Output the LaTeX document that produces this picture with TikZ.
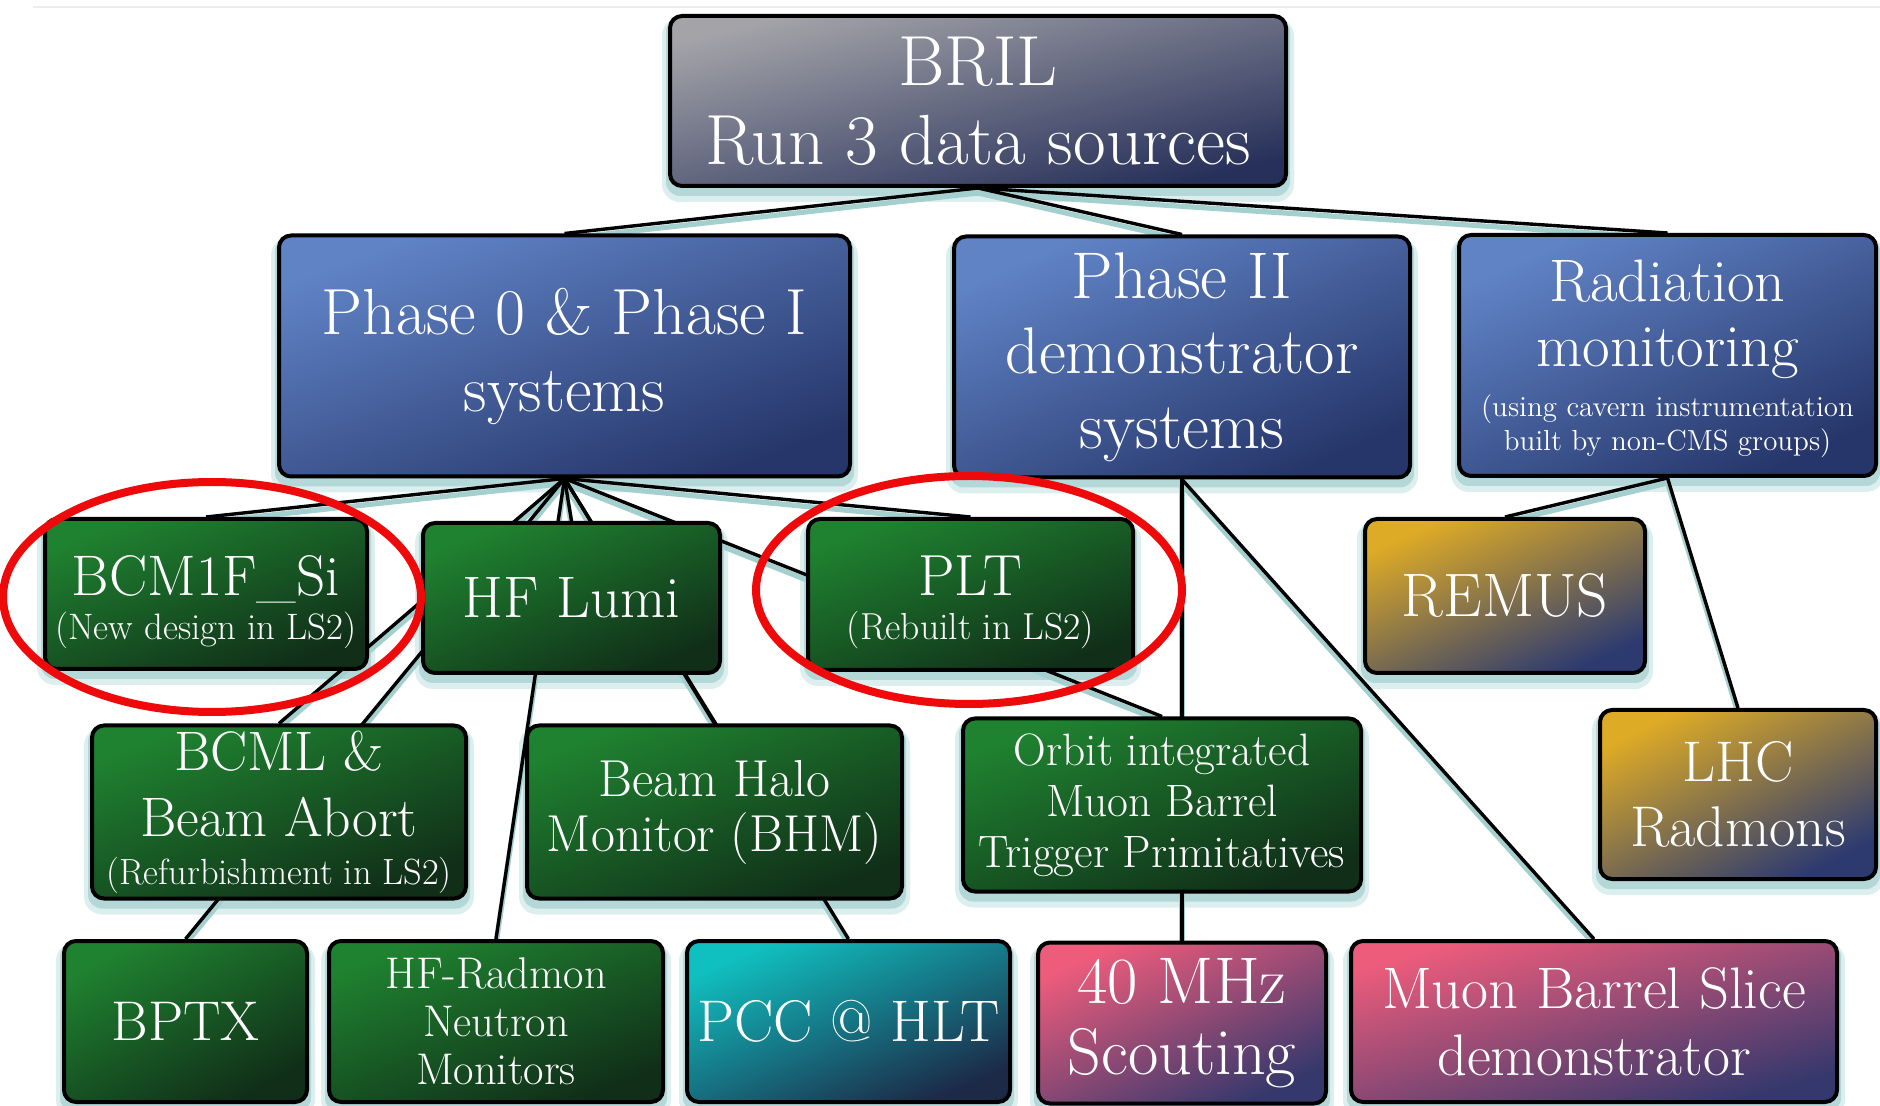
\documentclass[tikz,border=0pt]{standalone}
\usepackage{fontspec}
\usetikzlibrary{backgrounds}
\definecolor{greyA}{HTML}{A3A3A8}
\definecolor{greyB}{HTML}{27305A}
\definecolor{blueA}{HTML}{6083C6}
\definecolor{blueB}{HTML}{26366A}
\definecolor{greenA}{HTML}{1F8230}
\definecolor{greenB}{HTML}{102E18}
\definecolor{goldA}{HTML}{DEAB26}
\definecolor{goldB}{HTML}{2C3A70}
\definecolor{tealA}{HTML}{10C0C0}
\definecolor{tealB}{HTML}{1C2A48}
\definecolor{pinkA}{HTML}{EE5C7C}
\definecolor{pinkB}{HTML}{34386C}
\definecolor{shadowOut}{HTML}{DCEEEE}
\definecolor{shadowIn}{HTML}{B4D8D8}
\definecolor{edgeShadow}{HTML}{A4CFCF}
\definecolor{ringred}{HTML}{EE0A0A}
\begin{document}
\begin{tikzpicture}[x=0.5pt,y=-0.5pt,
  box/.style={draw=black, line width=2pt, rounded corners=6pt, inner sep=0pt, text=white, align=center},
  sz/.style 2 args={minimum width=#1*0.5pt-2pt, minimum height=#2*0.5pt-2pt},
  greybox/.style={box, top color=greyA, bottom color=greyB, shading angle=#1},
  bluebox/.style={box, top color=blueA, bottom color=blueB, shading angle=#1},
  greenbox/.style={box, top color=greenA, bottom color=greenB, shading angle=#1},
  goldbox/.style={box, top color=goldA, bottom color=goldB, shading angle=#1},
  tealbox/.style={box, top color=tealA, bottom color=tealB, shading angle=#1},
  pinkbox/.style={box, top color=pinkA, bottom color=pinkB, shading angle=#1},
  greybox/.default=20, bluebox/.default=20, greenbox/.default=21,
  goldbox/.default=24, tealbox/.default=23, pinkbox/.default=22,
  link/.style={draw=black, line width=1.7pt},
  linkshadow/.style={draw=edgeShadow, line width=2.6pt},
  ring/.style={draw=ringred, line width=4pt}
]
\useasboundingbox (0,0) rectangle (1880,1106);

% level 0
\node[greybox=14, sz={620}{174}, font=\fontsize{35.5}{39.5}\selectfont] (bril) at (978,101) {BRIL\\Run 3 data sources};

% level 1
\node[bluebox=20, sz={575}{245}, font=\fontsize{32.6}{38.5}\selectfont] (ph0) at (564.5,356) {Phase 0 \& Phase I\\systems};
\node[bluebox=24, sz={460}{245}, font=\fontsize{33}{37.5}\selectfont] (ph2) at (1182,357) {Phase II\\demonstrator\\systems};
\node[bluebox=25, sz={421}{245}, font=\fontsize{30}{32.5}\selectfont] (rad) at (1667.5,355.5)
  {\rule{0pt}{24pt}Radiation\\monitoring\\[-7.5pt]{\fontsize{14.5}{17}\selectfont (using cavern instrumentation}\\[-15.5pt]{\fontsize{14.5}{17}\selectfont built by non-CMS groups)}};

% level 2
\node[greenbox, sz={326}{154}, font=\fontsize{28.6}{32}\selectfont] (bcm) at (206,594)
  {\rule{0pt}{28pt}BCM1F\_Si\\[-10pt]{\fontsize{18.4}{21}\selectfont (New design in LS2)}};
\node[greenbox=23, sz={301}{154}, font=\fontsize{29.3}{32}\selectfont] (hfl) at (571.5,598) {HF Lumi};
\node[greenbox, sz={329}{155}, font=\fontsize{29}{32}\selectfont] (plt) at (970.5,594.5)
  {\rule{0pt}{28pt}PLT\\[-10pt]{\fontsize{18.8}{21}\selectfont (Rebuilt in LS2)}};
\node[goldbox, sz={284}{158}, font=\fontsize{30.7}{34}\selectfont] (remus) at (1505,596) {REMUS};

% level 3
\node[greenbox, sz={378}{177}, font=\fontsize{27.8}{33}\selectfont] (bcml) at (279,812)
  {BCML \&\\Beam Abort\\[-9pt]{\fontsize{18.2}{21}\selectfont (Refurbishment in LS2)}};
\node[greenbox, sz={379}{177}, font=\fontsize{26}{27.5}\selectfont] (bhm) at (714.5,812) {Beam Halo\\Monitor (BHM)};
\node[greenbox, sz={402}{177}, font=\fontsize{22.7}{25.5}\selectfont] (orbit) at (1162,805) {Orbit integrated\\Muon Barrel\\Trigger Primitatives};
\node[goldbox=27, sz={280}{173}, font=\fontsize{28.7}{32.4}\selectfont] (lhc) at (1738,794.5) {LHC\\Radmons};

% level 4
\node[greenbox=28, sz={247}{165}, font=\fontsize{28}{30}\selectfont] (bptx) at (185.5,1021.5) {BPTX};
\node[greenbox, sz={338}{165}, font=\fontsize{22.2}{24}\selectfont] (hfrad) at (496,1021.5) {HF-Radmon\\Neutron\\Monitors};
\node[tealbox, sz={327}{165}, font=\fontsize{29.4}{32}\selectfont] (pcc) at (848.5,1021.5) {PCC @ HLT};
\node[pinkbox=25, sz={292}{165}, font=\fontsize{33}{35.5}\selectfont] (mhz) at (1182,1023) {40 MHz\\Scouting};
\node[pinkbox=16, sz={490}{165}, font=\fontsize{29.3}{33.5}\selectfont] (mbs) at (1594,1021.5) {Muon Barrel Slice\\demonstrator};

% background: canvas, shadows, connectors
\begin{scope}[on background layer]
  \fill[white] (0,0) rectangle (1880,1106);
  \draw[black!7, line width=0.6pt] (33,7) -- (1880,7);
  \foreach \n in {bril,ph0,ph2,rad,bcm,hfl,plt,remus,bcml,bhm,orbit,lhc,bptx,hfrad,pcc,mhz,mbs} {
    \fill[shadowOut, rounded corners=9pt] ([xshift=-3pt,yshift=-7pt]\n.south west) rectangle ([xshift=3pt,yshift=-2pt]\n.north east);
    \fill[shadowIn, rounded corners=7pt] ([xshift=-1pt,yshift=-4pt]\n.south west) rectangle ([xshift=1pt,yshift=-2pt]\n.north east);
  }
  \foreach \a/\b in {bril/ph0,bril/ph2,bril/rad,ph0/bcm,ph0/hfl,ph0/plt,ph0/bcml,ph0/bptx,ph0/hfrad,ph0/bhm,ph0/pcc,ph0/orbit,ph2/mhz,ph2/mbs,rad/remus,rad/lhc}
    \draw[linkshadow] ([yshift=-2.5pt]\a.south) -- ([yshift=-2.5pt]\b.north);
  \foreach \a/\b in {bril/ph0,bril/ph2,bril/rad,ph0/bcm,ph0/hfl,ph0/plt,ph0/bcml,ph0/bptx,ph0/hfrad,ph0/bhm,ph0/pcc,ph0/orbit,ph2/mhz,ph2/mbs,rad/remus,rad/lhc}
    \draw[link] (\a.south) -- (\b.north);
\end{scope}

% red highlight rings
\draw[ring] (212,597) ellipse [x radius=209, y radius=115];
\draw[ring] (969,590) ellipse [x radius=213, y radius=114];
\end{tikzpicture}
\end{document}
